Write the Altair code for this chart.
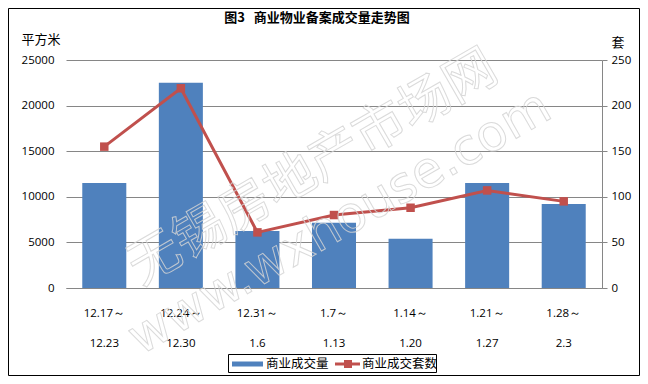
import altair as alt
import pandas as pd

categories = ["12.17～|12.23", "12.24～|12.30", "12.31～|1.6", "1.7～|1.13",
              "1.14～|1.20", "1.21～|1.27", "1.28～|2.3"]
area = [11500, 22500, 6250, 7150, 5400, 11500, 9200]
units = [155, 219, 61, 80, 88, 107, 95]
left_ticks = [0, 5000, 10000, 15000, 20000, 25000]
right_ticks = [0, 50, 100, 150, 200, 250]

title_text = "图3\u00a0\u00a0\u00a0商业物业备案成交量走势图"
left_unit = "平方米"
right_unit = "套"
legend_bar = "商业成交量"
legend_line = "商业成交套数"
watermark_cn = "无锡房地产市场网"
watermark_url = "www.wxhouse.com"

W, H = 536, 228
PAD = {"left": 58, "top": 52, "right": 38, "bottom": 88}
GRID = "#868686"
BLUE = "#4F81BD"
RED = "#C0504D"
NUMFONT = "Open Sans"
CJK = "Noto Sans CJK SC"

df = pd.DataFrame({"cat": categories, "area": area, "units": units})

base = alt.Chart(df).encode(
    x=alt.X("cat:N", sort=categories,
            scale=alt.Scale(paddingInner=0.425, paddingOuter=0.2125),
            axis=alt.Axis(title=None, labelExpr="split(datum.label, '|')",
                          labelAngle=0, ticks=False, domainColor=GRID,
                          labelLineHeight=30, labelBaseline="top",
                          labelPadding=19, labelFontSize=11.5,
                          labelFont=NUMFONT, labelColor="black"))
)

bars = base.mark_bar(color=BLUE).encode(
    y=alt.Y("area:Q", scale=alt.Scale(domain=[0, 25000]),
            axis=alt.Axis(title=None, values=left_ticks, grid=True,
                          gridColor=GRID, gridOpacity=1, domain=False,
                          ticks=False, labelPadding=12, format="d",
                          labelFont=NUMFONT, labelFontSize=11.5,
                          labelColor="black"))
)

line = base.mark_line(
    color=RED, strokeWidth=3,
    point=alt.OverlayMarkDef(shape="square", size=72, color=RED,
                             filled=True, opacity=1)
).encode(
    y=alt.Y("units:Q", scale=alt.Scale(domain=[0, 250]),
            axis=alt.Axis(orient="right", title=None, values=right_ticks,
                          grid=False, domainColor=GRID, tickColor=GRID,
                          tickSize=5, labelPadding=4, labelFont=NUMFONT,
                          labelFontSize=11.5, labelColor="black"))
)

one = alt.Data(values=[{"k": 1}])


def txt(s, x, y, size=13, weight="normal", align="center"):
    return alt.Chart(one).mark_text(
        text=s, font=CJK, fontSize=size, fontWeight=weight, align=align,
        baseline="middle", color="black"
    ).encode(x=alt.value(x), y=alt.value(y))


def wm(s, x, y, size, font):
    return alt.Chart(one).mark_text(
        text=s, font=font, fontSize=size, align="center", baseline="middle",
        angle=330, fill="white", fillOpacity=0, stroke="#d4d4d4",
        strokeWidth=1, strokeOpacity=0.85
    ).encode(x=alt.value(x), y=alt.value(y))


border = alt.Chart(one).mark_rect(
    fill="transparent", stroke="black", strokeWidth=1
).encode(x=alt.value(-57.5), x2=alt.value(W + PAD["right"] - 0.5),
         y=alt.value(-51.5), y2=alt.value(H + PAD["bottom"] - 0.5))

title = txt(title_text, 251, -42, size=13, weight="bold")
lu = txt(left_unit, -25, -20, size=13)
ru = txt(right_unit, 552, -17, size=13)

wm1 = wm(watermark_cn, 247, 108, 52, CJK)
wm2 = wm(watermark_url, 274, 163, 50, "DejaVu Sans")

leg_box = alt.Chart(one).mark_rect(
    fill="white", stroke="black", strokeWidth=1
).encode(x=alt.value(162.5), x2=alt.value(370.5),
         y=alt.value(294.5), y2=alt.value(312.5))
leg_sw = alt.Chart(one).mark_rect(color=BLUE).encode(
    x=alt.value(166), x2=alt.value(197), y=alt.value(301.5), y2=alt.value(306.5))
leg_t1 = txt(legend_bar, 200, 303.5, size=12.5, align="left")
leg_ln = alt.Chart(one).mark_rule(color=RED, strokeWidth=3).encode(
    x=alt.value(269), x2=alt.value(294), y=alt.value(304))
leg_sq = alt.Chart(one).mark_square(color=RED, size=64, opacity=1).encode(
    x=alt.value(282), y=alt.value(304))
leg_t2 = txt(legend_line, 296, 303.5, size=12.5, align="left")

chart = alt.layer(
    bars, line, wm1, wm2, border, title, lu, ru,
    leg_box, leg_sw, leg_t1, leg_ln, leg_sq, leg_t2
).resolve_scale(y="independent").properties(
    width=W, height=H, padding=PAD,
    autosize=alt.AutoSizeParams(type="none"),
    background="white"
).configure_view(stroke=None)

chart.save("out.html", embed_options={"renderer": "svg", "actions": False})
